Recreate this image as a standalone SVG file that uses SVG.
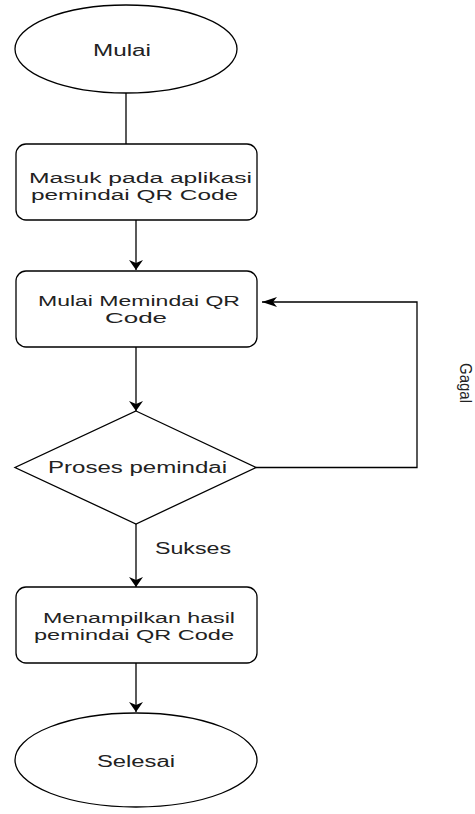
<svg xmlns="http://www.w3.org/2000/svg" width="475" height="814" viewBox="0 0 475 814">
<style>
.shape{fill:#fff;stroke:#000;stroke-width:1.3}
.edge{fill:none;stroke:#000;stroke-width:1.3}
.lbl{font-family:"Liberation Sans",Arial,sans-serif;font-size:16px;fill:#222}
.two{font-size:14px}
</style>
<defs>
<marker id="arrV" markerUnits="userSpaceOnUse" markerWidth="12" markerHeight="16" refX="10" refY="7" orient="auto" overflow="visible">
<path d="M0,0 L10,7 L0,14 L3,7 Z" fill="#000"/>
</marker>
<marker id="arrH" markerUnits="userSpaceOnUse" markerWidth="16" markerHeight="12" refX="15" refY="5" orient="auto" overflow="visible">
<path d="M0,0 L15,5 L0,10 L4,5 Z" fill="#000"/>
</marker>
</defs>
<rect width="475" height="814" fill="#fff"/>
<g id="connectors">
<path class="edge" d="M126,93 V144"/>
<path class="edge" d="M136,220 V270" marker-end="url(#arrV)"/>
<path class="edge" d="M136,347 V411" marker-end="url(#arrV)"/>
<path class="edge" d="M256,467.5 H417 V302 H262" marker-end="url(#arrH)"/>
<path class="edge" d="M136,524 V587" marker-end="url(#arrV)"/>
<path class="edge" d="M136,663 V712" marker-end="url(#arrV)"/>
<text class="lbl" x="155" y="554" textLength="76" lengthAdjust="spacingAndGlyphs">Sukses</text>
<text class="lbl" style="font-size:17px" transform="translate(460,363) rotate(90)" x="0" y="0" textLength="40" lengthAdjust="spacingAndGlyphs">Gagal</text>
</g>
<g id="mulai">
<ellipse class="shape" cx="126" cy="49" rx="111" ry="44"/>
<text class="lbl" x="93" y="56" textLength="58" lengthAdjust="spacingAndGlyphs">Mulai</text>
</g>
<g id="masuk">
<rect class="shape" x="16" y="144" width="241" height="76" rx="10" ry="10"/>
<text class="lbl two" x="29" y="183" textLength="223" lengthAdjust="spacingAndGlyphs">Masuk pada aplikasi</text>
<text class="lbl two" x="31" y="200" textLength="207" lengthAdjust="spacingAndGlyphs">pemindai QR Code</text>
</g>
<g id="memindai">
<rect class="shape" x="16" y="271" width="241" height="76" rx="10" ry="10"/>
<text class="lbl two" x="38" y="306" textLength="202" lengthAdjust="spacingAndGlyphs">Mulai Memindai QR</text>
<text class="lbl two" x="105" y="323" textLength="62" lengthAdjust="spacingAndGlyphs">Code</text>
</g>
<g id="proses">
<path class="shape" d="M136,411 L256,467.5 L136,524 L15,467.5 Z"/>
<text class="lbl" x="48" y="473" textLength="179" lengthAdjust="spacingAndGlyphs">Proses pemindai</text>
</g>
<g id="hasil">
<rect class="shape" x="16" y="587" width="241" height="76" rx="10" ry="10"/>
<text class="lbl two" x="43" y="623" textLength="192" lengthAdjust="spacingAndGlyphs">Menampilkan hasil</text>
<text class="lbl two" x="34" y="640" textLength="200" lengthAdjust="spacingAndGlyphs">pemindai QR Code</text>
</g>
<g id="selesai">
<ellipse class="shape" cx="136" cy="760" rx="121" ry="47"/>
<text class="lbl" x="97" y="767" textLength="78" lengthAdjust="spacingAndGlyphs">Selesai</text>
</g>
</svg>
